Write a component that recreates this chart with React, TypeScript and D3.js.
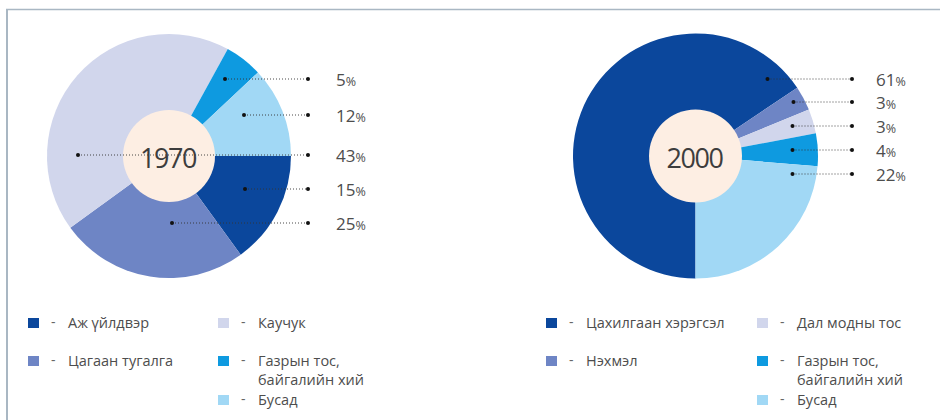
import React from 'react';
import * as d3 from 'd3';

// slice colours, shared by both pies and legends
const colors = ['#0b479c', '#6e85c5', '#d1d6ec', '#0e9ae0', '#a1d8f5'];

const names1970 = ['Аж үйлдвэр', 'Цагаан тугалга', 'Каучук', 'Газрын тос,|байгалийн хий', 'Бусад'];
const values1970 = [15, 25, 43, 5, 12];
const labelOrder1970 = [3, 4, 2, 0, 1];

const names2000 = ['Цахилгаан хэрэгсэл', 'Нэхмэл', 'Дал модны тос', 'Газрын тос,|байгалийн хий', 'Бусад'];
const values2000 = [61, 3, 3, 4, 22];
const labelOrder2000 = [0, 1, 2, 3, 4];

const W = 940;
const H = 420;
const font = '"Open Sans", "Noto Sans", sans-serif';
const textColor = '#4d4d4d';

type PieLayout = {
  cx: number;
  cy: number;
  r: number;
  inner: number;
  startAngle: number;
  labelY: number[];
  anchorDx: number[];
  lineEnd: number;
  textX: number;
  legendX: number[];
};

const layout1970: PieLayout = {
  cx: 169,
  cy: 156,
  r: 122,
  inner: 46,
  startAngle: Math.PI / 2,
  labelY: [79, 115, 155, 189, 223],
  anchorDx: [56, 75, -91, 76, 3],
  lineEnd: 308,
  textX: 336,
  legendX: [28, 218],
};

const layout2000: PieLayout = {
  cx: 695.5,
  cy: 156,
  r: 122.5,
  inner: 46.5,
  startAngle: Math.PI,
  labelY: [79, 102, 126, 150, 174],
  anchorDx: [72, 98, 97, 97, 97],
  lineEnd: 852,
  textX: 876,
  legendX: [546, 757],
};

type PieProps = {
  year: string;
  names: string[];
  values: number[];
  labelOrder: number[];
  lay: PieLayout;
};

const Pie = ({ year, names, values, labelOrder, lay }: PieProps) => {
  const pie = d3
    .pie<number>()
    .sort(null)
    .startAngle(lay.startAngle)
    .endAngle(lay.startAngle + 2 * Math.PI);
  const arcs = pie(values);
  const arc = d3.arc<d3.PieArcDatum<number>>().innerRadius(0).outerRadius(lay.r);

  // legend rows: two in the first column, three in the second
  const rowY1 = [323, 361];
  const rowY2 = [323, 361, 400];

  return (
    <g>
      <g transform={`translate(${lay.cx},${lay.cy})`}>
        {arcs.map((a, i) => (
          <path key={i} d={arc(a) ?? ''} fill={colors[i]} />
        ))}
        <circle r={lay.inner} fill="#fdeee3" />
      </g>

      {/* leader lines with dots */}
      {labelOrder.map((idx, k) => {
        const y = lay.labelY[k];
        const x0 = lay.cx + lay.anchorDx[k];
        return (
          <g key={k}>
            <line
              x1={x0}
              x2={lay.lineEnd}
              y1={y}
              y2={y}
              stroke="#333"
              strokeWidth={0.9}
              strokeDasharray="1 2"
            />
            <circle cx={x0} cy={y} r={2} fill="#111" />
            <circle cx={lay.lineEnd} cy={y} r={2} fill="#111" />
            <text x={lay.textX} y={y + 7} fill={textColor} fontFamily={font}>
              <tspan fontSize={17}>{values[idx]}</tspan>
              <tspan fontSize={12.5}>%</tspan>
            </text>
          </g>
        );
      })}

      <text
        x={lay.cx - 1}
        y={lay.cy + 12}
        textAnchor="middle"
        fontFamily={font}
        fontSize={27}
        letterSpacing={-1.5}
        fill="#3d3d3d"
      >
        {year}
      </text>

      {/* legend */}
      {names.map((n, i) => {
        const col = i < 2 ? 0 : 1;
        const y = col === 0 ? rowY1[i] : rowY2[i - 2];
        const x = lay.legendX[col];
        const lines = n.split('|');
        return (
          <g key={n + i}>
            <rect x={x} y={y - 5} width={11} height={10} fill={colors[i]} />
            <text x={x + 23} y={y + 4} fontFamily={font} fontSize={14} fill="#666">
              -
            </text>
            {lines.map((t, j) => (
              <text
                key={j}
                x={x + 40}
                y={y + 5 + j * 19}
                fontFamily={font}
                fontSize={14.5}
                fill={textColor}
              >
                {t}
              </text>
            ))}
          </g>
        );
      })}
    </g>
  );
};

export default function App() {
  return (
    <div style={{ position: 'absolute', left: 0, top: 0, width: W, height: H, background: '#fff' }}>
      <svg width={W} height={H}>
        <rect width={W} height={H} fill="#fff" />
        <line x1={6} x2={W} y1={9.5} y2={9.5} stroke="#a9b7c3" strokeWidth={1.5} />
        <line x1={7} x2={7} y1={9} y2={H} stroke="#a9b7c3" strokeWidth={2} />
        <Pie year="1970" names={names1970} values={values1970} labelOrder={labelOrder1970} lay={layout1970} />
        <Pie year="2000" names={names2000} values={values2000} labelOrder={labelOrder2000} lay={layout2000} />
      </svg>
    </div>
  );
}
